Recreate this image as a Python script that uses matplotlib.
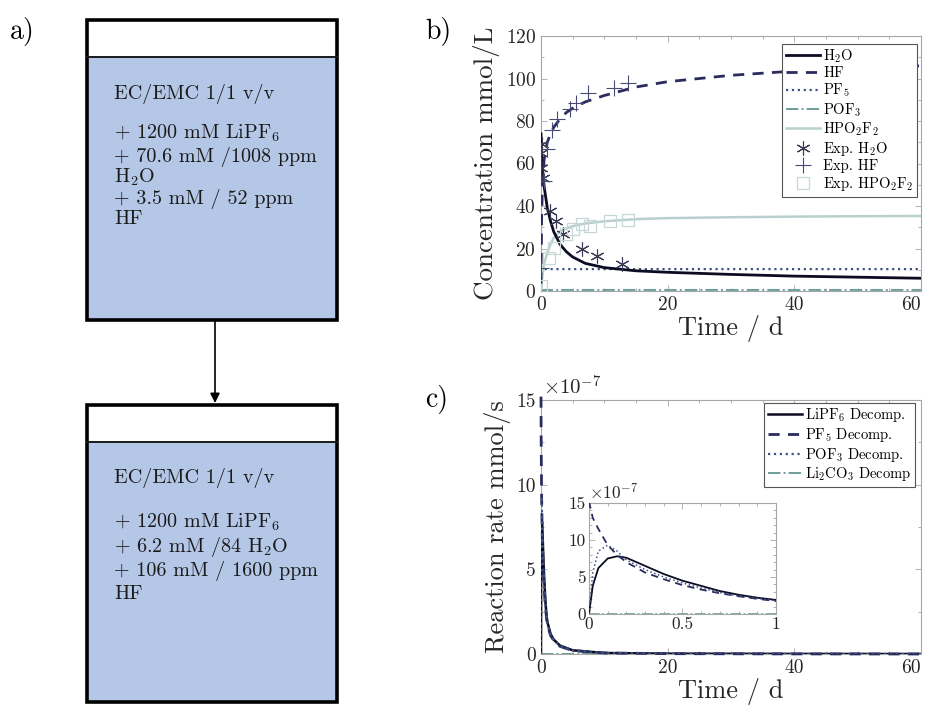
import matplotlib
matplotlib.use("Agg")
import matplotlib.pyplot as plt
from matplotlib.patches import Rectangle, FancyArrowPatch
from matplotlib.ticker import MultipleLocator
import numpy as np

plt.rcParams['font.family'] = 'serif'
plt.rcParams['font.serif'] = ['cmr10', 'DejaVu Serif']
plt.rcParams['mathtext.fontset'] = 'cm'
plt.rcParams['axes.formatter.use_mathtext'] = True
plt.rcParams['axes.unicode_minus'] = False

# ---------------- data: panel b (concentrations, mmol/L) ----------------
t_conc = [0, 0.1, 0.25, 0.5, 1, 1.5, 2, 3, 4, 5, 7, 10, 15, 20, 30, 40, 50, 60]
c_h2o = [74, 64, 57, 49, 39, 33, 28, 22, 18.5, 16, 13, 11, 9.5, 8.8, 7.8, 7, 6.5, 6]
c_hf = [3.5, 35, 52, 62, 70, 74, 77, 81, 84, 86, 89, 92, 96, 98.5, 101.5, 103.5, 105, 106]
c_pf5 = [0, 8, 10, 10.3, 10.3, 10.3, 10.3, 10.3, 10.3, 10.3, 10.3, 10.3, 10.3, 10.3, 10.3, 10.3, 10.3, 10.3]
c_pof3 = [0, 0.4, 0.5, 0.5, 0.5, 0.5, 0.5, 0.5, 0.5, 0.5, 0.5, 0.5, 0.5, 0.5, 0.5, 0.5, 0.5, 0.5]
c_hpo2f2 = [0, 4, 8, 13, 18, 22, 25, 28, 29.5, 30.5, 31.8, 32.8, 33.8, 34.3, 34.7, 35, 35.2, 35.3]

t_exp_h2o = [0.1, 0.0, 0.0, 0.37, 1.4, 2.4, 3.5, 6.4, 8.8, 12.8]
exp_h2o = [69, 65, 58, 53, 37.6, 33, 26.7, 19.6, 16.5, 12.5]
t_exp_hf = [0.0, 0.47, 1.0, 1.7, 2.6, 4.6, 5.6, 7.5, 11.5, 13.8]
exp_hf = [11, 51.8, 66.7, 76, 80.8, 85.5, 88.6, 93.3, 95.7, 98]
t_exp_hpo = [0.0, 1.2, 2.0, 4.0, 5.1, 6.4, 7.7, 10.9, 13.8]
exp_hpo = [2.4, 15.7, 20.4, 26.7, 29, 31.4, 30.6, 33, 33.3]

# ---------------- data: panel c (reaction rates, 1e-7 mmol/s) ----------------
t_rate = [0, 0.02, 0.05, 0.1, 0.15, 0.2, 0.3, 0.4, 0.5, 0.6, 0.7, 0.8, 0.9, 1.0,
          1.5, 2, 3, 5, 10, 20, 40, 60]
r_pf5 = [15.2, 13, 11.5, 9.3, 8.0, 7.0, 5.6, 4.7, 3.9, 3.3, 2.8, 2.4, 2.05, 1.75,
         1.1, 0.8, 0.45, 0.2, 0.06, 0.02, 0.005, 0]
r_lipf6 = [0, 3.8, 6.2, 7.5, 7.8, 7.6, 6.5, 5.4, 4.5, 3.8, 3.1, 2.6, 2.2, 1.9,
           1.2, 0.85, 0.5, 0.22, 0.06, 0.02, 0.005, 0]
r_pof3 = [0, 5.6, 8.5, 9.3, 8.5, 7.3, 6.0, 5.0, 4.2, 3.5, 2.9, 2.45, 2.1, 1.8,
          1.15, 0.82, 0.47, 0.21, 0.06, 0.02, 0.005, 0]
r_li2co3 = [0] * len(t_rate)
rate_scale = 1e-7

time_ticks = [0, 20, 40, 60]
time_tick_labels = ['0', '20', '40', '60']

box1_lines = ["EC/EMC 1/1 v/v", r"+ 1200 mM LiPF$_6$", "+ 70.6 mM /1008 ppm",
              r"H$_2$O", "+ 3.5 mM / 52 ppm", "HF"]
box2_lines = ["EC/EMC 1/1 v/v", r"+ 1200 mM LiPF$_6$", r"+ 6.2 mM /84 H$_2$O",
              "+ 106 mM / 1600 ppm", "HF"]

# colours
C_H2O = '#0b0b22'
C_HF = '#2a2c5e'
C_PF5 = '#3f5382'
C_POF3 = '#6e9e99'
C_HPO = '#b9d1ce'
SPINE = '#a6a6a6'
TXT = '#262626'

W, H = 928, 714
fig = plt.figure(figsize=(W / 100, H / 100), dpi=100)

# ---------------- panel a (schematic) ----------------
axa = fig.add_axes([0, 0, 1, 1])
axa.set_xlim(0, W)
axa.set_ylim(H, 0)
axa.axis('off')
axa.patch.set_alpha(0)

def draw_box(y0, y_sep, y1, lines, ys):
    axa.add_patch(Rectangle((87, y_sep), 250, y1 - y_sep, facecolor='#b4c7e7', edgecolor='none'))
    axa.plot([87, 337], [y_sep, y_sep], color='#1a1a1a', lw=1.4)
    axa.add_patch(Rectangle((87, y0), 250, y1 - y0, facecolor='none', edgecolor='black', lw=2.6))
    for ln, y in zip(lines, ys):
        axa.text(114, y, ln, fontsize=14.5, va='baseline', ha='left', color='#1a1a1a')

draw_box(20, 57, 320, box1_lines, [99, 139, 162, 183, 204, 224])
draw_box(405, 442, 702, box2_lines, [483, 528, 552, 576, 599])
axa.add_patch(FancyArrowPatch((215, 320), (215, 403), arrowstyle='-|>', mutation_scale=14,
                              color='black', lw=1.2, shrinkA=0, shrinkB=0))

fig.text(10 / W, 1 - 32 / H, 'a)', fontsize=20, va='center', ha='left')
fig.text(425 / W, 1 - 32 / H, 'b)', fontsize=20, va='center', ha='left')
fig.text(425 / W, 1 - 400 / H, 'c)', fontsize=20, va='center', ha='left')

def style_axes(ax, tick_size=14):
    for s in ax.spines.values():
        s.set_color(SPINE)
        s.set_linewidth(0.8)
    ax.tick_params(which='both', direction='in', top=True, right=True, color=SPINE,
                   labelcolor=TXT, labelsize=tick_size, width=0.6)
    ax.tick_params(which='major', length=4)
    ax.tick_params(which='minor', length=2.5)

def time_axis(ax):
    ax.set_xticks(time_ticks, labels=time_tick_labels)
    ax.xaxis.set_minor_locator(MultipleLocator(5))
    ax.get_xticklabels()[-1].set_horizontalalignment('right')

leg_kw = dict(fontsize=10.5, frameon=True, fancybox=False, edgecolor='#555555', framealpha=1,
              handlelength=2.3, labelspacing=0.12, borderpad=0.25, handletextpad=0.25,
              borderaxespad=0)

# ---------------- panel b ----------------
axb = fig.add_axes([541 / W, 1 - 291 / H, 380 / W, 255 / H])
axb.plot(t_conc, c_h2o, '-', color=C_H2O, lw=2.0, label=r'H$_2$O', zorder=5)
axb.plot(t_conc, c_hf, '--', color=C_HF, lw=2.0, dashes=(4, 3), label='HF', zorder=5)
axb.plot(t_conc, c_pf5, ':', color=C_PF5, lw=1.6, label=r'PF$_5$', zorder=4)
axb.plot(t_conc, c_pof3, '-.', color=C_POF3, lw=1.4, label=r'POF$_3$', zorder=4)
axb.plot(t_conc, c_hpo2f2, '-', color=C_HPO, lw=1.8, label=r'HPO$_2$F$_2$', zorder=4)
axb.plot(t_exp_h2o, exp_h2o, linestyle='none', marker=(6, 2, 0), markersize=10, mew=0.8,
         color='#3a3a55', label=r'Exp. H$_2$O', zorder=6)
axb.plot(t_exp_hf, exp_hf, linestyle='none', marker='+', markersize=12, mew=0.8,
         color='#4a4a78', label='Exp. HF', zorder=6)
axb.plot(t_exp_hpo, exp_hpo, linestyle='none', marker='s', markersize=9, mew=0.9,
         mfc='none', mec='#c5d8d5', label=r'Exp. HPO$_2$F$_2$', zorder=6)
axb.set_xlim(0, 60)
axb.set_ylim(0, 120)
time_axis(axb)
axb.yaxis.set_major_locator(MultipleLocator(20))
axb.yaxis.set_minor_locator(MultipleLocator(10))
style_axes(axb)
axb.set_xlabel('Time / d', fontsize=19, color=TXT, labelpad=1)
axb.set_ylabel('Concentration mmol/L', fontsize=19.5, color=TXT, labelpad=4)
legb = axb.legend(loc='upper right', bbox_to_anchor=(0.99, 0.97), **leg_kw)
legb.get_frame().set_linewidth(0.8)

# ---------------- panel c ----------------
axc = fig.add_axes([541 / W, 1 - 654 / H, 380 / W, 254 / H])
rp = np.array(r_pf5) * rate_scale
rl = np.array(r_lipf6) * rate_scale
ro = np.array(r_pof3) * rate_scale
rc = np.array(r_li2co3) * rate_scale
axc.plot(t_rate, rl, '-', color=C_H2O, lw=1.8, label=r'LiPF$_6$ Decomp.', zorder=5)
axc.plot(t_rate, rp, '--', color=C_HF, lw=2.0, dashes=(4, 3), label=r'PF$_5$ Decomp.', zorder=5,
         clip_on=False)
axc.plot(t_rate, ro, ':', color=C_PF5, lw=1.6, label=r'POF$_3$ Decomp.', zorder=5)
axc.plot(t_rate, rc, '-.', color=C_POF3, lw=1.4, label=r'Li$_2$CO$_3$ Decomp', zorder=4)
axc.set_xlim(0, 60)
axc.set_ylim(0, 15e-7)
time_axis(axc)
axc.set_yticks([0, 5e-7, 10e-7, 15e-7])
axc.set_yticklabels(['0', '5', '10', '15'])
axc.yaxis.set_minor_locator(MultipleLocator(2.5e-7))
style_axes(axc)
axc.text(0.005, 1.005, r'$\times10^{-7}$', transform=axc.transAxes, fontsize=15, color=TXT,
         ha='left', va='bottom')
axc.set_xlabel('Time / d', fontsize=19, color=TXT, labelpad=1)
axc.set_ylabel('Reaction rate mmol/s', fontsize=19, color=TXT, labelpad=4)
legc = axc.legend(loc='upper right', bbox_to_anchor=(0.985, 0.99), **leg_kw)
legc.get_frame().set_linewidth(0.8)

# ---------------- inset ----------------
axi = fig.add_axes([589 / W, 1 - 614 / H, 187 / W, 111 / H])
axi.plot(t_rate, rl, '-', color=C_H2O, lw=1.3, zorder=5)
axi.plot(t_rate, rp, '--', color=C_HF, lw=1.3, dashes=(4, 3), zorder=5)
axi.plot(t_rate, ro, ':', color=C_PF5, lw=1.1, zorder=5)
axi.plot(t_rate, rc, '-.', color=C_POF3, lw=1.2, zorder=4)
axi.set_xlim(0, 1)
axi.set_ylim(0, 15e-7)
axi.set_xticks([0, 0.5, 1])
axi.set_xticklabels(['0', '0.5', '1'])
axi.xaxis.set_minor_locator(MultipleLocator(0.1))
axi.set_yticks([0, 5e-7, 10e-7, 15e-7])
axi.set_yticklabels(['0', '5', '10', '15'])
axi.yaxis.set_minor_locator(MultipleLocator(1e-7))
style_axes(axi, tick_size=12.5)
axi.tick_params(which='both', pad=2)
axi.text(0.0, 1.01, r'$\times10^{-7}$', transform=axi.transAxes, fontsize=12.5, color=TXT,
         ha='left', va='bottom')

fig.savefig('out.png', dpi=100)
